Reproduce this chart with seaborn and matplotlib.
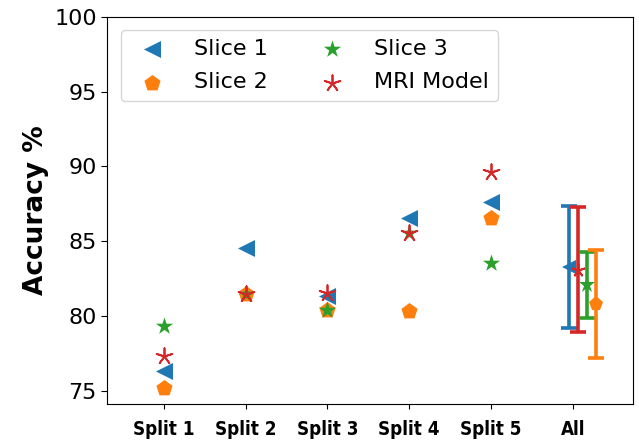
import numpy as np
import matplotlib
matplotlib.use("Agg")
import matplotlib.pyplot as plt
import seaborn as sns

# values
splits = ["Split 1", "Split 2", "Split 3", "Split 4", "Split 5"]
all_label = "All"
slice1 = [76.3, 84.55, 81.35, 86.55, 87.6]
slice2 = [75.2, 81.45, 80.4, 80.35, 86.55]
slice3 = [79.35, 81.45, 80.4, 85.55, 83.5]
mri_model = [77.3, 81.45, 81.5, 85.55, 89.65]

series_names = ["Slice 1", "Slice 2", "Slice 3", "MRI Model"]
series_values = [slice1, slice2, slice3, mri_model]

palette = sns.color_palette("tab10")
colors = [palette[0], palette[1], palette[2], palette[3]]
markers = ["<", "p", "*", (5, 2, 0)]
marker_sizes = [150, 150, 170, 140]
err_marker_sizes = [10, 11, 12, 10]
# draw order / offsets of the summary column
all_order = [0, 3, 2, 1]
all_offsets = [-0.04, 0.28, 0.18, 0.07]

fig, ax = plt.subplots(figsize=(6.39, 4.42), dpi=100)
fig.subplots_adjust(left=0.168, right=0.991, bottom=0.086, top=0.962)

x_pos = np.arange(len(splits))
for name, vals, c, m, s in zip(series_names, series_values, colors, markers, marker_sizes):
    lw = 1.3 if isinstance(m, tuple) else 0
    sns.scatterplot(x=x_pos, y=vals, ax=ax, color=c, marker=m, s=s,
                    linewidth=lw, edgecolor=c, label=name, zorder=3)

# mean +/- std for "All"
for i in all_order:
    vals = np.array(series_values[i])
    xi = len(splits) + all_offsets[i]
    ax.errorbar(xi, vals.mean(), yerr=vals.std(), fmt="none",
                ecolor=colors[i], elinewidth=2.6, capsize=6, capthick=2.6, zorder=3)
    m = markers[i]
    ax.plot(xi, vals.mean(), linestyle="none", marker=m, color=colors[i],
            markersize=err_marker_sizes[i],
            markeredgewidth=1.3 if isinstance(m, tuple) else 0, zorder=4)

ax.set_xlim(-0.69, 5.74)
ax.set_ylim(74.1, 100)
ax.set_yticks([75, 80, 85, 90, 95, 100])
ax.tick_params(axis="y", labelsize=16, length=4)
ax.set_xticks(np.arange(len(splits) + 1))
ax.set_xticklabels(splits + [all_label], fontsize=13.5, fontweight="bold",
                   family="DejaVu Sans", fontstretch="condensed")
ax.tick_params(axis="x", length=3.5, pad=8)
ax.set_ylabel("Accuracy %", fontsize=19, fontweight="bold")

ax.legend(loc="upper left", ncol=2, fontsize=16, borderaxespad=0.6,
          handletextpad=0.9, columnspacing=1.9, labelspacing=0.6,
          markerscale=1.0, bbox_to_anchor=(0.0, 1.0))

fig.savefig("out.png", dpi=100)
